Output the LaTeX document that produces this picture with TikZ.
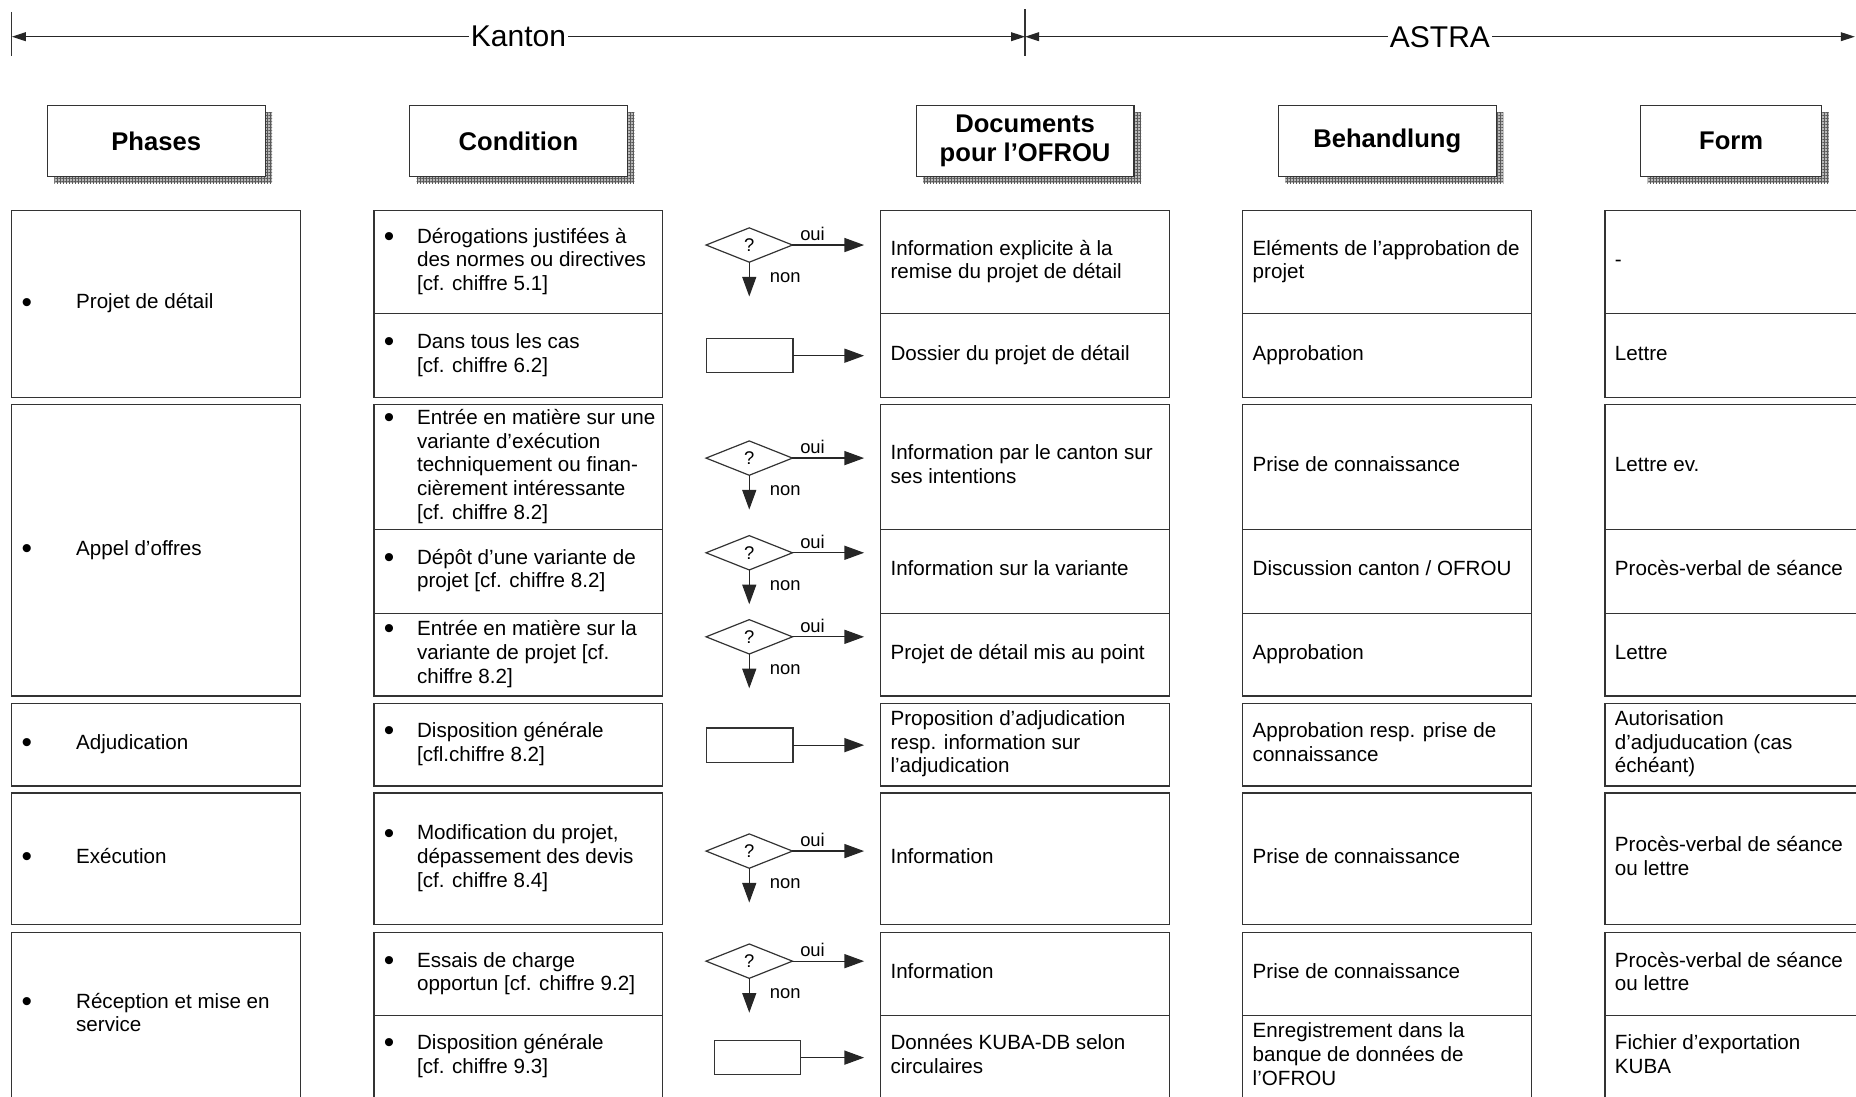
\documentclass[tikz,border=0pt]{standalone}
\usepackage{fontspec}
\setmainfont{Liberation Sans}
\usetikzlibrary{arrows.meta,shapes.geometric,patterns.meta,backgrounds}

\newdimen\myu \myu=0.5918pt
\newcommand\bodyf{\fontsize{10.3}{11.84}\selectfont}
\newcommand\hdrf{\fontsize{12.8}{14.8}\selectfont\bfseries}
\newcommand\topf{\fontsize{15}{18}\selectfont}
\newcommand\smf{\fontsize{9.2}{11}\selectfont}
\newcommand\bigbul{\raisebox{-1.6pt}{\scalebox{1.45}{\textbullet}}}
\newcommand\tx[1]{\begin{tabular}{@{}l@{}}#1\end{tabular}}
\newcommand\bulP[1]{\makebox[46\myu][l]{\bigbul}\begin{tabular}[t]{@{}l@{}}#1\end{tabular}}
\newcommand\bulC[1]{\makebox[28\myu][l]{\bigbul}\begin{tabular}[t]{@{}l@{}}#1\end{tabular}}
\newcommand\mkcell[6]{%
  \node[cellbox, minimum width={(#4-#2)*\myu}, minimum height={(#5-#3)*\myu}] (#1) at (#2,#3) {};
  \node[txt] (#1t) at ([xshift=8*\myu]#1.west) {#6};}

\tikzset{
  cellbox/.style={draw=black!80, line width=0.6pt, rectangle, inner sep=0pt, outer sep=0pt, anchor=north west},
  txt/.style={anchor=west, inner sep=0pt, font=\bodyf},
  hdr/.style={draw=black!80, line width=0.6pt, fill=white, rectangle, inner sep=0pt, outer sep=0pt,
    anchor=north west, font=\hdrf, align=center, minimum height=60*\myu, minimum width=184*\myu},
  shadowfill/.style={fill=gray!55, postaction={pattern={Hatch[distance=1.5pt, line width=0.3pt]}, pattern color=black!65}},
  tick/.style={draw=black!80, line width=0.6pt},
  toparr/.style={draw=black!85, line width=0.6pt, {Triangle[length=7pt,width=4.4pt]}-{Triangle[length=7pt,width=4.4pt]}},
  toplbl/.style={fill=white, inner xsep=1pt, inner ysep=0pt, font=\topf},
  dia/.style={diamond, draw=black!80, line width=0.6pt, minimum width=73*\myu, minimum height=29*\myu, inner sep=0pt, outer sep=0pt, font=\smf},
  rbox/.style={rectangle, draw=black!80, line width=0.6pt, minimum width=73*\myu, minimum height=29*\myu, inner sep=0pt, outer sep=0pt},
  arr/.style={draw=black!85, line width=0.6pt, -{Triangle[length=9.8pt,width=7pt]}},
  oui/.style={pos=0.28, above=1.8pt, inner sep=0pt, font=\smf},
  non/.style={pos=0.45, right=17*\myu, inner sep=0pt, font=\smf},
}

\begin{document}
\begin{tikzpicture}[x=0.5918pt, y=-0.5918pt]
\useasboundingbox (0,0) rectangle (1568,926);
\clip (0,0) rectangle (1568,926);

% top scale
\coordinate (kl) at (10,31);
\coordinate (km) at (866,31);
\coordinate (ar) at (1567,31);
\coordinate (t1a) at (10,10);
\coordinate (t1b) at (10,47);
\coordinate (t2a) at (866,8);
\coordinate (t2b) at (866,47);
\draw[tick] (t1a) -- (t1b);
\draw[tick] (t2a) -- (t2b);
\draw[toparr] (kl) -- node[toplbl] (kanton) {Kanton} (km);
\draw[toparr] (km) -- node[toplbl] (astra) {ASTRA} (ar);

% headers
\node[hdr] (hph) at (40,89) {Phases};
\node[hdr] (hco) at (346,89) {Condition};
\node[hdr] (hdo) at (774,89) {Documents\\pour l’OFROU};
\node[hdr] (hbe) at (1080,89) {Behandlung};
\node[hdr, minimum width=153*\myu] (hfo) at (1386,89) {Form};
\begin{scope}[on background layer]
\foreach \h in {hph,hco,hdo,hbe,hfo}
  \fill[shadowfill] ([xshift=6*\myu,yshift=-6*\myu]\h.north west) rectangle ([xshift=6*\myu,yshift=-6*\myu]\h.south east);
\end{scope}

% Phases
\mkcell{P1}{10}{178}{254}{336}{\bulP{Projet de détail}}
\mkcell{P2}{10}{342}{254}{588}{\bulP{Appel d’offres}}
\mkcell{P3}{10}{594}{254}{664}{\bulP{Adjudication}}
\mkcell{P4}{10}{670}{254}{781}{\bulP{Exécution}}
\mkcell{P5}{10}{788}{254}{927.5}{\bulP{Réception et mise en\\service}}

% Condition
\mkcell{C1}{316}{178}{560}{265}{\bulC{Dérogations justifées à\\des normes ou directives\\{[}cf. chiffre 5.1{]}}}
\mkcell{C2}{316}{265}{560}{336}{\bulC{Dans tous les cas\\{[}cf. chiffre 6.2{]}}}
\mkcell{C3}{316}{342}{560}{447}{\bulC{Entrée en matière sur une\\variante d’exécution\\techniquement ou finan-\\cièrement intéressante\\{[}cf. chiffre 8.2{]}}}
\mkcell{C4}{316}{447}{560}{518}{\bulC{Dépôt d’une variante de\\projet {[}cf. chiffre 8.2{]}}}
\mkcell{C5}{316}{518}{560}{588}{\bulC{Entrée en matière sur la\\variante de projet {[}cf.\\chiffre 8.2{]}}}
\mkcell{C6}{316}{594}{560}{664}{\bulC{Disposition générale\\{[}cfl.chiffre 8.2{]}}}
\mkcell{C7}{316}{670}{560}{781}{\bulC{Modification du projet,\\dépassement des devis\\{[}cf. chiffre 8.4{]}}}
\mkcell{C8}{316}{788}{560}{858}{\bulC{Essais de charge\\opportun {[}cf. chiffre 9.2{]}}}
\mkcell{C9}{316}{858}{560}{927.5}{\bulC{Disposition générale\\{[}cf. chiffre 9.3{]}}}

% Documents
\mkcell{D1}{744}{178}{988}{265}{\tx{Information explicite à la\\remise du projet de détail}}
\mkcell{D2}{744}{265}{988}{336}{\tx{Dossier du projet de détail}}
\mkcell{D3}{744}{342}{988}{447}{\tx{Information par le canton sur\\ses intentions}}
\mkcell{D4}{744}{447}{988}{518}{\tx{Information sur la variante}}
\mkcell{D5}{744}{518}{988}{588}{\tx{Projet de détail mis au point}}
\mkcell{D6}{744}{594}{988}{664}{\tx{Proposition d’adjudication\\resp. information sur\\l’adjudication}}
\mkcell{D7}{744}{670}{988}{781}{\tx{Information}}
\mkcell{D8}{744}{788}{988}{858}{\tx{Information}}
\mkcell{D9}{744}{858}{988}{927.5}{\tx{Données KUBA-DB selon\\circulaires}}

% Behandlung
\mkcell{B1}{1050}{178}{1294}{265}{\tx{Eléments de l’approbation de\\projet}}
\mkcell{B2}{1050}{265}{1294}{336}{\tx{Approbation}}
\mkcell{B3}{1050}{342}{1294}{447}{\tx{Prise de connaissance}}
\mkcell{B4}{1050}{447}{1294}{518}{\tx{Discussion canton / OFROU}}
\mkcell{B5}{1050}{518}{1294}{588}{\tx{Approbation}}
\mkcell{B6}{1050}{594}{1294}{664}{\tx{Approbation resp. prise de\\connaissance}}
\mkcell{B7}{1050}{670}{1294}{781}{\tx{Prise de connaissance}}
\mkcell{B8}{1050}{788}{1294}{858}{\tx{Prise de connaissance}}
\mkcell{B9}{1050}{858}{1294}{927.5}{\tx{Enregistrement dans la\\banque de données de\\l’OFROU}}

% Form
\mkcell{F1}{1356}{178}{1600}{265}{\tx{-}}
\mkcell{F2}{1356}{265}{1600}{336}{\tx{Lettre}}
\mkcell{F3}{1356}{342}{1600}{447}{\tx{Lettre ev.}}
\mkcell{F4}{1356}{447}{1600}{518}{\tx{Procès-verbal de séance}}
\mkcell{F5}{1356}{518}{1600}{588}{\tx{Lettre}}
\mkcell{F6}{1356}{594}{1600}{664}{\tx{Autorisation\\d’adjuducation (cas\\échéant)}}
\mkcell{F7}{1356}{670}{1600}{781}{\tx{Procès-verbal de séance\\ou lettre}}
\mkcell{F8}{1356}{788}{1600}{858}{\tx{Procès-verbal de séance\\ou lettre}}
\mkcell{F9}{1356}{858}{1600}{927.5}{\tx{Fichier d’exportation\\KUBA}}

% decisions
\foreach \n/\y in {q1/207, q2/387, q3/467, q4/538, q5/719, q6/812} {
  \node[dia] (\n) at (633,\y) {?};
  \coordinate (\n o) at (730,\y);
  \coordinate (\n n) at ([yshift=-29*\myu]\n.south);
  \draw[arr] (\n.east) -- node[oui] (\n y) {oui} (\n o);
  \draw[arr] (\n.south) -- node[non] (\n x) {non} (\n n);
}

% plain boxes
\node[rbox] (r1) at (633.5,300.5) {};
\node[rbox] (r2) at (633.5,629.5) {};
\node[rbox] (r3) at (640,893.5) {};
\coordinate (r1o) at (730,300.5);
\coordinate (r2o) at (730,629.5);
\coordinate (r3o) at (730,893.5);
\draw[arr] (r1.east) -- (r1o);
\draw[arr] (r2.east) -- (r2o);
\draw[arr] (r3.east) -- (r3o);
\end{tikzpicture}
\end{document}
